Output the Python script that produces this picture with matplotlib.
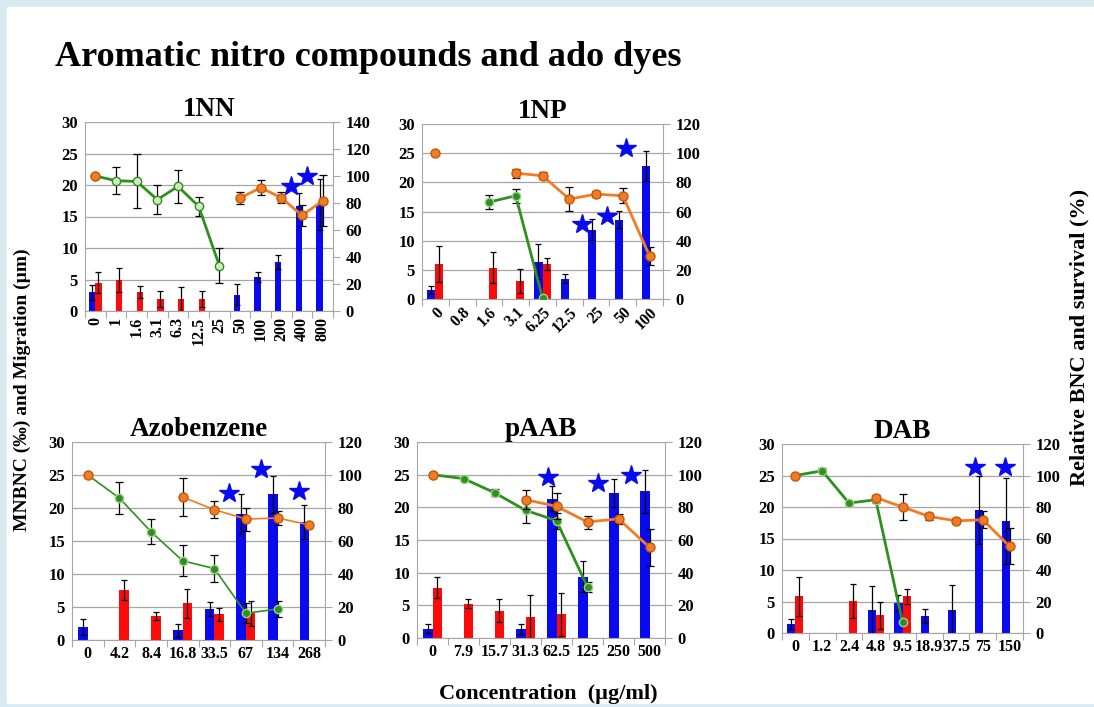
import numpy as np
import matplotlib
matplotlib.use('Agg')
import matplotlib.pyplot as plt
from matplotlib.patches import Rectangle

plt.rcParams['font.family'] = ['Liberation Serif', 'DejaVu Serif']
plt.rcParams['font.weight'] = 'bold'

nan = np.nan
W, H = 1094, 707

# ---- 1NN ----
nn_cats = ['0', '1', '1.6', '3.1', '6.3', '12.5', '25', '50', '100', '200', '400', '800']
nn_blue = [3.0, nan, nan, nan, nan, nan, nan, 2.6, 5.4, 7.8, 16.7, 16.9]
nn_blue_err = [1.2, 0, 0, 0, 0, 0, 0, 1.7, 0.8, 1.1, 2.0, 4.0]
nn_red = [4.5, 4.9, 3.0, 1.9, 1.9, 1.9, nan, nan, nan, nan, nan, nan]
nn_red_err = [1.7, 1.9, 0.9, 1.2, 1.9, 1.2, 0, 0, 0, 0, 0, 0]
nn_green = [100, 96.5, 96, 82.5, 92.3, 77.5, 33.7, nan, nan, nan, nan, nan]
nn_green_err = [0, 10, 20, 10.5, 12.5, 7, 13, 0, 0, 0, 0, 0]
nn_orange = [100, nan, nan, nan, nan, nan, nan, 83.7, 91.3, 83.9, 70.8, 81.7]
nn_orange_err = [0, 0, 0, 0, 0, 0, 0, 4.5, 5.5, 4, 8, 19]
nn_star_x = [9.47, 10.24]
nn_star_y = [19.8, 21.5]

# ---- 1NP ----
np_cats = ['0', '0.8', '1.6', '3.1', '6.25', '12.5', '25', '50', '100']
np_blue = [1.55, nan, nan, nan, 6.35, 3.5, 11.85, 13.6, 22.8]
np_blue_err = [0.7, 0, 0, 0, 3.0, 0.8, 1.8, 1.5, 2.6]
np_red = [6.0, nan, 5.4, 3.1, 6.0, nan, nan, nan, nan]
np_red_err = [3.1, 0, 2.6, 2.0, 1.1, 0, 0, 0, 0]
np_green = [nan, nan, 66.4, 70.8, 0.7, nan, nan, nan, nan]
np_green_err = [0, 0, 5, 4.7, 0, 0, 0, 0, 0]
np_orange = [100, nan, nan, 86.3, 84.5, 68.5, 71.9, 70.8, 29.5]
np_orange_err = [0, 0, 0, 3, 2.5, 8, 2, 5, 6.5]
np_star_x = [5.49, 6.4, 7.12]
np_star_y = [12.8, 14.25, 25.9]

# ---- Azobenzene ----
az_cats = ['0', '4.2', '8.4', '16.8', '33.5', '67', '134', '268']
az_blue = [2.0, nan, nan, 1.5, 4.7, 19.1, 22.05, 17.85]
az_blue_err = [1.2, 0, 0, 1.0, 1.0, 3.0, 2.8, 2.6]
az_red = [nan, 7.6, 3.6, 5.6, 3.9, 4.05, nan, nan]
az_red_err = [0, 1.5, 0.6, 2.2, 1.0, 1.9, 0, 0]
az_green = [100, 86, 65.6, 48, 43.3, 16.2, 18.8, nan]
az_green_err = [0, 9.6, 7.6, 9.4, 8.3, 6, 4.7, 0]
az_orange = [100, nan, nan, 86.6, 79, 73.3, 73.9, 69.8]
az_orange_err = [0, 0, 0, 11.4, 5.3, 7, 4, 0]
az_star_x = [4.46, 5.47, 6.68]
az_star_y = [22.3, 25.9, 22.6]

# ---- pAAB ----
pa_cats = ['0', '7.9', '15.7', '31.3', '62.5', '125', '250', '500']
pa_blue = [1.43, nan, nan, 1.4, 21.3, 9.4, 22.2, 22.45]
pa_blue_err = [0.7, 0, 0, 0.8, 1.9, 2.4, 2.1, 3.3]
pa_red = [7.7, 5.25, 4.2, 3.2, 3.6, nan, nan, nan]
pa_red_err = [1.6, 0.7, 1.7, 3.4, 3.3, 0, 0, 0]
pa_green = [100, 97.6, 89, 78.2, 71.8, 31.2, nan, nan]
pa_green_err = [0, 0, 2, 8, 5, 3, 0, 0]
pa_orange = [100, nan, nan, 84.7, 80.6, 71, 73, 55.5]
pa_orange_err = [0, 0, 0, 6, 8, 4, 3, 11.5]
pa_star_x = [3.74, 5.35, 6.39]
pa_star_y = [24.6, 23.7, 25.0]

# ---- DAB ----
da_cats = ['0', '1.2', '2.4', '4.8', '9.5', '18.9', '37.5', '75', '150']
da_blue = [1.43, nan, nan, 3.6, 4.75, 2.75, 3.6, 19.55, 17.8]
da_blue_err = [0.8, 0, 0, 3.8, 1.3, 1.1, 4.0, 5.4, 6.8]
da_red = [5.8, nan, 5.1, 2.8, 5.8, nan, nan, nan, nan]
da_red_err = [3.1, 0, 2.7, 2.2, 1.2, 0, 0, 0, 0]
da_green = [100, 103, 82.5, 84.6, 7.0, nan, nan, nan, nan]
da_green_err = [0, 1.5, 1.5, 2, 0, 0, 0, 0, 0]
da_orange = [100, nan, nan, 86, 80, 74, 71.2, 71.9, 55]
da_orange_err = [0, 0, 0, 1.5, 8.5, 2.5, 1.5, 5.4, 11.4]
da_star_x = [6.69, 7.84]
da_star_y = [26.3, 26.3]

BLUE = '#0a0af0'
RED = '#ff0a0a'
GREEN = '#2f8f1f'
ORANGE = '#f37b21'
GRID = '#a6a6a6'


def px_rect(l, t, r, b):
    return [l / W, 1 - b / H, (r - l) / W, (b - t) / H]


def draw_panel(fig, rect, title, cats, blue, blue_err, red, red_err,
               green, green_err, orange, orange_err, star_x, star_y,
               rmax=120, rot=0, lw=2.0, open_green=False):
    ax = fig.add_axes(rect)
    n = len(cats)
    x = np.arange(n)
    bw = 0.3
    ekw = dict(ecolor='black', elinewidth=0.9, capsize=2.5, capthick=0.9)
    b = np.array(blue, float)
    be = np.where(np.isnan(b), nan, blue_err)
    r = np.array(red, float)
    re_ = np.where(np.isnan(r), nan, red_err)
    ax.bar(x - 0.15, b, bw, color=BLUE, yerr=be, error_kw=ekw, zorder=2)
    ax.bar(x + 0.15, r, bw, color=RED, yerr=re_, error_kw=ekw, zorder=2)
    ax.set_ylim(0, 30)
    ax.set_xlim(-0.5, n - 0.5)
    ax.set_yticks(range(0, 31, 5))
    ax.grid(axis='y', color=GRID, lw=0.9, zorder=0)
    ax.set_axisbelow(True)
    for s in ['top', 'right']:
        ax.spines[s].set_visible(False)
    for s in ['left', 'bottom']:
        ax.spines[s].set_color(GRID)
    ax.set_xticks(np.arange(n + 1) - 0.5)
    ax.set_xticklabels([])
    ax.tick_params(axis='x', which='major', length=5, color=GRID)
    ax.set_xticks(x, minor=True)
    if rot == 90:
        ax.set_xticklabels(cats, minor=True, rotation=90, ha='center', va='top')
    elif rot == 45:
        ax.set_xticklabels(cats, minor=True, rotation=45, ha='right',
                           va='top', rotation_mode='anchor')
    else:
        ax.set_xticklabels(cats, minor=True)
    ax.tick_params(axis='x', which='minor', length=0, labelsize=11.5, pad=4)
    ax.tick_params(axis='y', length=0, labelsize=12, pad=5)
    ax.set_title(title, fontsize=19.5, fontweight='bold', pad=3)

    ax2 = ax.twinx()
    ax2.set_ylim(0, rmax)
    ax2.set_yticks(range(0, rmax + 1, 20))
    for s in ['top', 'left', 'bottom']:
        ax2.spines[s].set_visible(False)
    ax2.spines['right'].set_color(GRID)
    ax2.tick_params(axis='y', length=5, color=GRID, labelsize=12, pad=4)
    ax.set_zorder(0)
    ax2.set_zorder(1)
    ax2.patch.set_visible(False)

    g = np.array(green, float)
    ge = np.where(np.isnan(g), nan, green_err)
    ax2.errorbar(x, g, yerr=ge, color=GREEN, lw=lw, marker='o', ms=6,
                 mfc='#cfe8c0' if open_green else GREEN,
                 mec=GREEN if open_green else '#9fd08a',
                 ecolor='black', elinewidth=0.9, capsize=3, capthick=0.9, zorder=3)
    o = np.array(orange, float)
    oe = np.where(np.isnan(o), nan, orange_err)
    ax2.errorbar(x, o, yerr=oe, color=ORANGE, lw=lw, marker='o', ms=6.5,
                 mfc=ORANGE, mec='#c05a10', ecolor='black', elinewidth=0.9,
                 capsize=3, capthick=0.9, zorder=4)
    # stars are read in left-axis units, drawn on the top axes
    ax2.plot(np.array(star_x), np.array(star_y) * rmax / 30, ls='none', marker='*',
             ms=15, color=BLUE, zorder=5, clip_on=False)
    return ax, ax2


fig = plt.figure(figsize=(W / 100, H / 100), dpi=100)
fig.patch.set_facecolor('#d6ebf1')
fig.add_artist(Rectangle((7 / W, 4 / H), 1 - 7 / W, 1 - 11 / H,
                         transform=fig.transFigure, color='white', zorder=-1))

draw_panel(fig, px_rect(85, 122, 333, 311), '1NN', nn_cats, nn_blue, nn_blue_err,
           nn_red, nn_red_err, nn_green, nn_green_err, nn_orange, nn_orange_err,
           nn_star_x, nn_star_y, rmax=140, rot=90, open_green=True)
draw_panel(fig, px_rect(422, 124, 663, 299), '1NP', np_cats, np_blue, np_blue_err,
           np_red, np_red_err, np_green, np_green_err, np_orange, np_orange_err,
           np_star_x, np_star_y, rot=45)
draw_panel(fig, px_rect(72, 442, 325, 640), 'Azobenzene', az_cats, az_blue, az_blue_err,
           az_red, az_red_err, az_green, az_green_err, az_orange, az_orange_err,
           az_star_x, az_star_y, lw=1.2)
draw_panel(fig, px_rect(417, 442, 665, 638), 'pAAB', pa_cats, pa_blue, pa_blue_err,
           pa_red, pa_red_err, pa_green, pa_green_err, pa_orange, pa_orange_err,
           pa_star_x, pa_star_y)
draw_panel(fig, px_rect(782, 444, 1023, 633), 'DAB', da_cats, da_blue, da_blue_err,
           da_red, da_red_err, da_green, da_green_err, da_orange, da_orange_err,
           da_star_x, da_star_y)

fig.text(55 / W, 1 - 66 / H, 'Aromatic nitro compounds and ado dyes', fontsize=26,
         fontweight='bold', ha='left', va='baseline')
fig.text(22 / W, 1 - 390 / H, 'MNBNC (\u2030) and Migration (\u00b5m)', fontsize=14,
         fontweight='bold', rotation=90, ha='center', va='center')
fig.text(1079 / W, 1 - 337 / H, 'Relative BNC and survival (%)', fontsize=16,
         fontweight='bold', rotation=90, ha='center', va='center')
fig.text(548 / W, 1 - 694 / H, 'Concentration  (\u00b5g/ml)', fontsize=16,
         fontweight='bold', ha='center', va='center')

fig.savefig('out.png', dpi=100, facecolor=fig.get_facecolor())
